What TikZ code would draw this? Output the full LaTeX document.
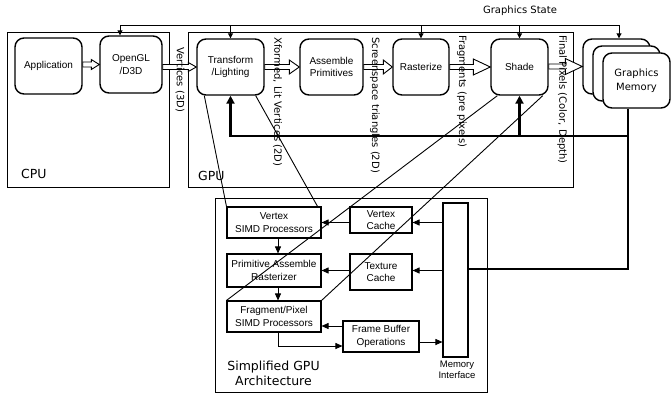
\documentclass[tikz,border=0pt]{standalone}
\usepackage{fontspec}
\setmainfont{Liberation Sans}
\newfontfamily\lblfont{DejaVu Sans}
\usetikzlibrary{arrows.meta,calc}

\tikzset{
  rbox/.style={draw, line width=1.4pt, rounded corners=9pt, align=center, inner sep=0pt,
               font=\fontsize{10}{12.5}\selectfont},
  sbox/.style={draw, line width=1.1pt, align=center, inner sep=0pt,
               font=\fontsize{10}{12.5}\selectfont},
  frame/.style={draw, line width=1pt, inner sep=0pt},
  wire/.style={line width=0.9pt},
  arr/.style={wire, -{Triangle[length=7pt,width=6pt]}},
  gsarr/.style={wire, -{Triangle[length=5pt,width=5pt]}},
  bus/.style={line width=2.4pt},
  busarr/.style={bus, -{Triangle[length=8pt,width=8pt]}},
  blockline/.style={draw, line width=0.9pt, fill=white, line join=miter},
  vlabel/.style={rotate=-90, anchor=west, inner sep=0pt, font=\lblfont\fontsize{10}{12}\selectfont},
  title/.style={font=\lblfont\fontsize{12.5}{15}\selectfont, inner sep=0pt},
}

% hollow block arrow between two horizontally aligned nodes
\newcommand\blockarrow[4]{%
  \draw[blockline] let \p1=(#1.east), \p2=(#2.west) in
    (\x1,\y2+2.5pt) -- (\x2-#3,\y2+2.5pt) -- (\x2-#3,\y2+#4) -- (\x2,\y2)
    -- (\x2-#3,\y2-#4) -- (\x2-#3,\y2-2.5pt) -- (\x1,\y2-2.5pt) -- cycle;}

\begin{document}
\begin{tikzpicture}[x=1pt,y=-1pt]
\useasboundingbox (0,0) rectangle (671,394);

% enclosing frames
\node[frame, minimum width=162pt, minimum height=155pt] (cpu) at (88,109.5) {};
\node[frame, minimum width=385pt, minimum height=155pt] (gpu) at (380.5,109.5) {};
\node[frame, minimum width=272pt, minimum height=194pt] (sgpu) at (351,295) {};
\node[title, anchor=west] (cpulbl) at (21,174) {CPU};
\node[title, anchor=west] (gpulbl) at (198,176) {GPU};
\node[title, align=center] (sgpulbl) at (273.5,373) {Simplified GPU\\Architecture};

% pipeline stages
\node[rbox, minimum width=67pt, minimum height=56pt] (app) at (48.5,66) {Application};
\node[rbox, minimum width=62pt, minimum height=57pt] (ogl) at (131,64.5) {OpenGL\\/D3D};
\node[rbox, minimum width=67pt, minimum height=56pt] (tl) at (230.5,67) {Transform\\/Lighting};
\node[rbox, minimum width=63pt, minimum height=56pt] (ap) at (331.5,67) {Assemble\\Primitives};
\node[rbox, minimum width=56pt, minimum height=56pt] (ras) at (421,67) {Rasterize};
\node[rbox, minimum width=57pt, minimum height=56pt] (sh) at (519.5,67) {Shade};

% graphics memory stack
\node[rbox, fill=white, minimum width=67pt, minimum height=55pt] (gmb) at (616.5,66.5) {};
\node[rbox, fill=white, minimum width=67pt, minimum height=55pt] (gmm) at (626.5,73.5) {};
\node[rbox, fill=white, minimum width=67pt, minimum height=55pt, font=\lblfont\fontsize{10}{14}\selectfont]
  (gmf) at (636.5,80.5) {Graphics\\Memory};

% simplified GPU blocks
\node[sbox, minimum width=94pt, minimum height=31pt] (vs) at (274,222.5) {Vertex\\SIMD Processors};
\node[sbox, minimum width=62pt, minimum height=26pt] (vc) at (381,220) {Vertex\\Cache};
\node[sbox, minimum width=94pt, minimum height=33pt] (pa) at (274,270.5) {Primitive Assemble\\Rasterizer};
\node[sbox, minimum width=62pt, minimum height=36pt] (tc) at (381,272) {Texture\\Cache};
\node[sbox, minimum width=94pt, minimum height=31pt] (fp) at (274,316.5) {Fragment/Pixel\\SIMD Processors};
\node[sbox, minimum width=76pt, minimum height=31pt] (fb) at (381,336.5) {Frame Buffer\\Operations};
\node[sbox, minimum width=25pt, minimum height=154pt] (mi) at (455.5,280) {};
\node[align=center, inner sep=0pt, font=\fontsize{9.5}{11.5}\selectfont, anchor=north] (milbl)
  at ($(mi.south)+(1.5,3)$) {Memory\\Interface};

% data flow between stages
\blockarrow{app}{ogl}{8pt}{5pt}
\blockarrow{ogl}{tl}{8pt}{4.5pt}
\blockarrow{tl}{ap}{10pt}{7pt}
\blockarrow{ap}{ras}{9pt}{7pt}
\blockarrow{ras}{sh}{17pt}{8pt}
\blockarrow{sh}{gmb}{17pt}{8pt}

% rotated stream labels
\node[vlabel] (l1) at (180,47) {Vertices (3D)};
\node[vlabel] (l2) at (277.5,37) {Xformed, Lit Vertices (2D)};
\node[vlabel] (l3) at (375,37) {Screenspace triangles (2D)};
\node[vlabel] (l4) at (462,35) {Fragments (pre pixels)};
\node[vlabel] (l5) at (562,35) {Final Pixels (Color, Depth)};

% graphics state distribution
\node[font=\lblfont\fontsize{10}{12}\selectfont, inner sep=0pt] (gslbl) at (520,11) {Graphics State};
\coordinate (gsl) at ($(ogl.north)+(-11,-10)$);
\coordinate (gsr) at ($(gmb.north)+(2.5,-13)$);
\draw[wire] (gsl) -- (gsr);
\draw[gsarr] (gsl) -- ($(ogl.north)+(-11,0)$);
\draw[gsarr] (tl.north |- gsl) -- (tl.north);
\draw[gsarr] (ras.north |- gsl) -- (ras.north);
\draw[gsarr] (sh.north |- gsl) -- (sh.north);
\draw[gsarr] (gsr) -- ($(gmb.north)+(2.5,0)$);

% stages mapped onto hardware units
\draw[wire] ($(tl.south west)+(8,0)$) -- (vs.north west);
\draw[wire] ($(tl.south east)+(-9,0)$) -- ($(vs.north east)+(-4,0)$);
\draw[wire] ($(sh.south west)+(7,0)$) -- (fp.north west);
\draw[wire] ($(sh.south east)+(-6,0)$) -- (fp.north east);

% memory bus
\coordinate (gmout) at ($(gmf.south)+(-8.5,0)$);
\coordinate (bus) at ($(gmout)+(0,27)$);
\coordinate (mij) at ($(mi.east)+(0,-11)$);
\draw[bus] (gmout) |- (mij);
\draw[busarr] (bus) -| (tl.south);
\draw[busarr] (sh.south |- bus) -- (sh.south);

% hardware dataflow
\draw[arr] (mi.west |- vs.east) -- (vc.east |- vs.east);
\draw[arr] (vc.west |- vs.east) -- (vs.east);
\draw[arr] (mi.west |- pa.east) -- (tc.east |- pa.east);
\draw[arr] (tc.west |- pa.east) -- (pa.east);
\draw[arr] ([xshift=4pt]vs.south) -- ([xshift=4pt]pa.north);
\draw[arr] ([xshift=4pt]pa.south) -- ([xshift=4pt]fp.north);
\coordinate (fbin) at ($(fp.east)+(0,9.5)$);
\draw[arr] (fb.west |- fbin) -- (fbin);
\coordinate (fbout) at ($(fb.west)+(0,9.5)$);
\draw[arr] ([xshift=4pt]fp.south) |- (fbout);
\coordinate (fbmi) at ($(fb.east)+(0,5.5)$);
\draw[arr] (fbmi) -- (mi.west |- fbmi);
\end{tikzpicture}
\end{document}
